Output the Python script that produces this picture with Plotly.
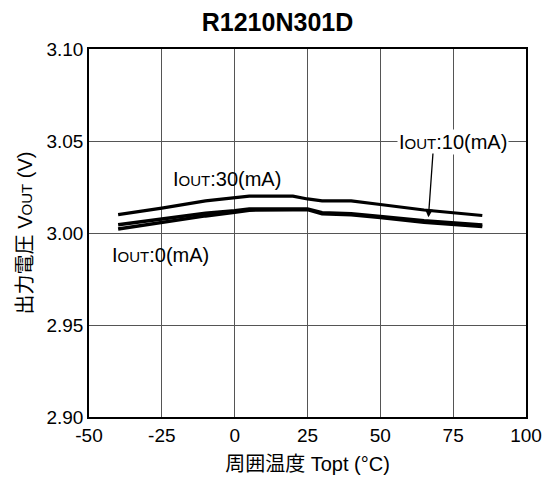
import plotly.graph_objects as go

temp = [-40, -25, -10, 0, 5, 20, 25, 30, 40, 50, 65, 85]
v_30ma = [3.0100, 3.0135, 3.0175, 3.0190, 3.0200, 3.0200, 3.0185, 3.0175, 3.0175, 3.0155, 3.0125, 3.0095]
v_10ma = [3.0045, 3.0077, 3.0107, 3.0121, 3.0131, 3.0131, 3.0131, 3.0110, 3.0105, 3.0090, 3.0066, 3.0044]
v_0ma = [3.0022, 3.0058, 3.0093, 3.0112, 3.0124, 3.0127, 3.0127, 3.0104, 3.0099, 3.0084, 3.0059, 3.0036]

x_ticks = [-50, -25, 0, 25, 50, 75, 100]
y_ticks = [2.90, 2.95, 3.00, 3.05, 3.10]

FONT = "Liberation Sans, Arial, Noto Sans CJK JP, sans-serif"
SUB = "<span style='font-size:15px'>OUT</span>"

fig = go.Figure()
fig.add_trace(go.Scatter(x=temp, y=v_30ma, mode="lines", line=dict(color="black", width=3.2), name="30mA"))
fig.add_trace(go.Scatter(x=temp, y=v_10ma, mode="lines", line=dict(color="black", width=3.5), name="10mA"))
fig.add_trace(go.Scatter(x=temp, y=v_0ma, mode="lines", line=dict(color="black", width=3.5), name="0mA"))

fig.update_layout(
    width=555, height=480,
    margin=dict(l=89, r=29, t=49, b=63),
    paper_bgcolor="white", plot_bgcolor="white",
    showlegend=False,
    font=dict(family=FONT, size=19, color="black"),
    title=dict(text="<b>R1210N301D</b>", x=0.5, xanchor="center", y=1 - 22 / 480, yanchor="middle",
               font=dict(size=25, family=FONT, color="black")),
    xaxis=dict(range=[-50, 100], tickvals=x_ticks, ticktext=[str(v) for v in x_ticks],
               showgrid=True, gridcolor="#555", gridwidth=1, zeroline=False,
               showline=True, linecolor="black", linewidth=1.5, mirror=True,
               ticks="", tickfont=dict(size=19), automargin=False,
               title=dict(text="周囲温度 Topt (°C)", font=dict(size=20), standoff=12)),
    yaxis=dict(range=[2.90, 3.10], tickvals=y_ticks, ticktext=["%.2f" % v for v in y_ticks],
               showgrid=True, gridcolor="#555", gridwidth=1, zeroline=False,
               showline=True, linecolor="black", linewidth=1.5, mirror=True,
               ticks="", tickfont=dict(size=19), automargin=False,
               title=dict(text="出力電圧 V" + SUB + " (V)", font=dict(size=20), standoff=8)),
)

fig.add_annotation(x=-2.6, y=3.0293, xref="x", yref="y", text="I" + SUB + ":30(mA)",
                   showarrow=False, font=dict(size=20))
fig.add_annotation(x=-25.6, y=2.988, xref="x", yref="y", text="I" + SUB + ":0(mA)",
                   showarrow=False, font=dict(size=20))
fig.add_annotation(x=75, y=3.0496, xref="x", yref="y", text="I" + SUB + ":10(mA)",
                   showarrow=False, font=dict(size=20), bgcolor="white", borderpad=1)
fig.add_annotation(x=66.5, y=3.0085, xref="x", yref="y", ax=68.1, ay=3.044, axref="x", ayref="y",
                   text="", showarrow=True, arrowhead=2, arrowsize=1.2, arrowwidth=1.3, arrowcolor="black")

fig.write_html("out.html")
